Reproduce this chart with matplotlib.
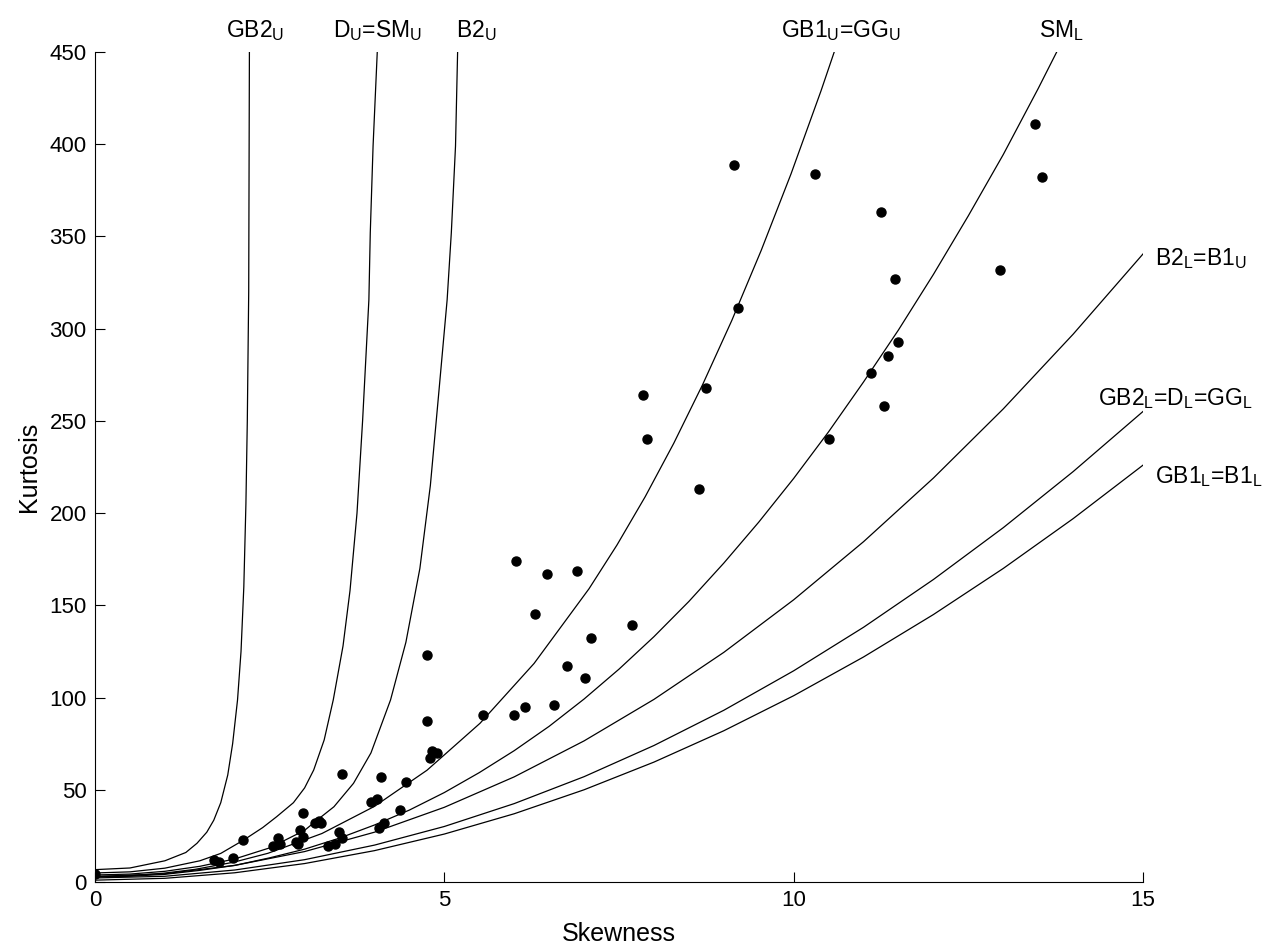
import matplotlib
matplotlib.use("Agg")
import matplotlib.pyplot as plt

plt.rcParams['font.family'] = ['Liberation Sans', 'DejaVu Sans']
plt.rcParams['mathtext.fontset'] = 'custom'
plt.rcParams['mathtext.rm'] = 'Liberation Sans'
plt.rcParams['mathtext.it'] = 'Liberation Sans:italic'
plt.rcParams['mathtext.bf'] = 'Liberation Sans:bold'

# ---- boundary curves (skewness, kurtosis) ----
gb2u_s = [0.0, 0.5, 1.0, 1.3, 1.46, 1.6, 1.7, 1.8, 1.9, 1.97, 2.04, 2.09, 2.13, 2.16, 2.18, 2.20, 2.21]
gb2u_k = [6.7, 7.6, 11.5, 16.0, 21.0, 27.0, 33.5, 43.0, 58.0, 75.0, 98.7, 125.0, 160.0, 205.0, 250.0, 320.0, 450.0]

du_s = [0.0, 0.5, 1.0, 1.5, 1.8, 2.13, 2.4, 2.6, 2.84, 3.0, 3.13, 3.28, 3.41, 3.55, 3.65, 3.75, 3.83, 3.92, 3.94, 3.98, 4.04]
du_k = [4.9, 5.5, 7.5, 11.5, 15.5, 22.8, 29.5, 35.4, 43.0, 51.0, 60.7, 77.0, 98.7, 128.0, 158.0, 200.0, 250.0, 315.6, 352.0, 399.0, 450.0]

b2u_s = [0.0, 0.5, 1.0, 1.5, 2.0, 2.5, 3.0, 3.18, 3.42, 3.70, 3.95, 4.23, 4.45, 4.65, 4.80, 4.92, 5.04, 5.10, 5.16, 5.19]
b2u_k = [3.8, 4.3, 5.8, 8.5, 12.5, 18.5, 28.0, 33.6, 40.8, 53.5, 70.0, 98.7, 130.0, 170.0, 215.0, 265.0, 315.6, 352.0, 399.0, 450.0]

gb1u_s = [0.0, 0.301, 0.608, 0.980, 1.431, 1.982, 2.475, 3.248, 4.0, 4.752, 5.511, 6.284, 7.071, 7.471, 7.875, 8.283, 8.696, 9.114, 9.535, 9.962, 10.392, 10.740]
gb1u_k = [3.0, 3.16, 3.66, 4.76, 6.85, 10.71, 15.56, 26.29, 41.0, 60.6, 86.06, 118.47, 159.0, 182.7, 208.9, 237.8, 269.6, 304.4, 342.4, 383.9, 429.0, 467.8]

sml_s = [0.0, 0.5, 1.0, 1.5, 2.0, 2.5, 3.0, 3.5, 4.0, 4.5, 5.0, 5.5, 6.0, 6.5, 7.0, 7.5, 8.0, 8.5, 9.0, 9.5, 10.0, 10.5, 11.0, 11.5, 12.0, 12.5, 13.0, 13.5, 14.0]
sml_k = [2.72, 3.1, 4.15, 6.3, 9.0, 13.1, 17.8, 23.8, 30.9, 39.0, 48.5, 59.3, 71.2, 84.4, 99.2, 115.4, 133.0, 152.1, 172.9, 195.1, 218.8, 244.1, 271.1, 299.3, 329.4, 361.2, 394.4, 430.2, 467.6]

quad_s = [0, 1, 2, 3, 4, 5, 6, 7, 8, 9, 10, 11, 12, 13, 14, 15]
b2l_k = [3.0, 4.5, 9.0, 16.5, 27.0, 40.5, 57.0, 76.5, 99.0, 124.5, 153.0, 184.5, 219.0, 256.5, 297.0, 340.5]
gb2l_k = [2.2, 3.1, 6.5, 12.1, 20.0, 30.1, 42.5, 57.1, 74.0, 93.1, 114.5, 138.1, 164.0, 192.1, 222.5, 255.1]
gb1l_k = [1.0, 2.0, 5.0, 10.0, 17.0, 26.0, 37.0, 50.0, 65.0, 82.0, 101.0, 122.0, 145.0, 170.0, 197.0, 226.0]

# ---- observed (skewness, kurtosis) points ----
pts_s = [9.15, 10.3, 13.45, 13.55, 11.25, 11.45, 12.95, 9.2, 11.5, 11.35, 11.1, 7.85, 8.75, 11.3, 7.9, 10.5, 8.65,
         6.02, 6.47, 6.90, 6.30, 7.68, 7.10, 6.75, 7.02, 5.56, 5.99, 6.16, 6.57, 4.75,
         4.75, 4.83, 4.90, 4.80, 3.54, 4.09, 4.45, 3.95, 4.04, 4.37, 2.98, 3.15, 3.23, 3.20, 4.14, 4.07,
         2.93, 3.49, 2.98, 2.62, 3.53, 2.12, 2.87, 2.65, 2.91, 2.55, 3.34, 3.44, 1.97, 1.71, 1.78, 0.0]
pts_k = [389, 384, 411, 382, 363, 327, 332, 311, 293, 285, 276, 264, 268, 258, 240, 240, 213,
         174.1, 166.9, 168.7, 145.2, 139.2, 132.5, 117.1, 110.4, 90.4, 90.4, 95.1, 96.0, 123,
         87.5, 71.2, 70.1, 67.2, 58.7, 56.8, 54.1, 43.5, 45.2, 38.9, 37.6, 32.2, 32.2, 33.3, 31.8, 29.1,
         28.2, 27.3, 24.4, 24.0, 23.9, 22.6, 21.9, 20.6, 20.4, 19.7, 19.7, 20.6, 12.8, 11.9, 10.7, 4.2]

x_ticks = [0, 5, 10, 15]
y_ticks = [0, 50, 100, 150, 200, 250, 300, 350, 400, 450]

fig = plt.figure(figsize=(12.64, 9.49), dpi=100)
ax = fig.add_axes([95/1264, 1-882/949, (1143-95)/1264, (882-52)/949])

lw = 0.9
for s, k in [(gb2u_s, gb2u_k), (du_s, du_k), (b2u_s, b2u_k), (gb1u_s, gb1u_k), (sml_s, sml_k),
             (quad_s, b2l_k), (quad_s, gb2l_k), (quad_s, gb1l_k)]:
    ax.plot(s, k, color='black', lw=lw)

ax.plot(pts_s, pts_k, 'o', color='black', markersize=6.5, zorder=5)

ax.set_xlim(0, 15)
ax.set_ylim(0, 450)
ax.set_xticks(x_ticks)
ax.set_yticks(y_ticks)
ax.spines['top'].set_visible(False)
ax.spines['right'].set_visible(False)
ax.tick_params(direction='in', length=7, width=0.8, labelsize=16, pad=6)
ax.set_xlabel('Skewness', fontsize=18, labelpad=8)
ax.set_ylabel('Kurtosis', fontsize=18, labelpad=6)

fs = 16.5
ax.text(2.29, 458, r'GB2$_\mathrm{U}$', fontsize=fs, ha='center', va='baseline', clip_on=False)
ax.text(4.04, 458, r'D$_\mathrm{U}$=SM$_\mathrm{U}$', fontsize=fs, ha='center', va='baseline', clip_on=False)
ax.text(5.46, 458, r'B2$_\mathrm{U}$', fontsize=fs, ha='center', va='baseline', clip_on=False)
ax.text(10.68, 458, r'GB1$_\mathrm{U}$=GG$_\mathrm{U}$', fontsize=fs, ha='center', va='baseline', clip_on=False)
ax.text(13.83, 458, r'SM$_\mathrm{L}$', fontsize=fs, ha='center', va='baseline', clip_on=False)
ax.text(15.17, 334.6, r'B2$_\mathrm{L}$=B1$_\mathrm{U}$', fontsize=fs, ha='left', va='baseline', clip_on=False)
ax.text(14.35, 258.7, r'GB2$_\mathrm{L}$=D$_\mathrm{L}$=GG$_\mathrm{L}$', fontsize=fs, ha='left', va='baseline', clip_on=False)
ax.text(15.17, 216.4, r'GB1$_\mathrm{L}$=B1$_\mathrm{L}$', fontsize=fs, ha='left', va='baseline', clip_on=False)

fig.savefig('out.png', dpi=100)
